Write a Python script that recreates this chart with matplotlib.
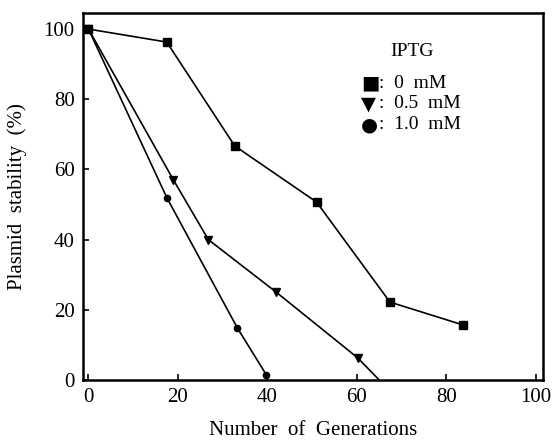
import matplotlib
matplotlib.use("Agg")
import matplotlib.pyplot as plt

# plasmid stability vs generations for three IPTG levels
gen_0mM = [0, 17.5, 32.7, 51, 67.4, 83.7]
stab_0mM = [100, 96.3, 66.7, 50.7, 22.2, 15.7]

gen_05mM = [0, 19, 26.8, 42, 60.2, 65]
stab_05mM = [100, 57, 40, 25, 6.3, 0]

gen_10mM = [0, 17.5, 33.3, 39.8]
stab_10mM = [100, 52, 14.8, 1.4]

xticks = [0, 20, 40, 60, 80, 100]
yticks = [0, 20, 40, 60, 80, 100]

key_symbols = ["■", "▼", "●"]
key_labels = [":  0  mM", ":  0.5  mM", ":  1.0  mM"]

serif = ['Liberation Serif', 'DejaVu Sans']
plt.rcParams['font.family'] = serif

fig = plt.figure(figsize=(5.54, 4.46), dpi=100)
ax = fig.add_axes([0.150, 0.148, 0.830, 0.823])

ax.plot(gen_0mM, stab_0mM, color='black', lw=1.2, marker='s', ms=5.5)
ax.plot(gen_05mM, stab_05mM, color='black', lw=1.2, marker='v', ms=5.5,
        markevery=list(range(len(gen_05mM) - 1)))
ax.plot(gen_10mM, stab_10mM, color='black', lw=1.2, marker='o', ms=4.5)

ax.set_xlim(-1.2, 101.6)
ax.set_ylim(0, 104.6)
ax.set_xticks(xticks)
ax.set_yticks(yticks)
ax.tick_params(direction='in', length=4, width=1.2, labelsize=15, pad=6)
for s in ax.spines.values():
    s.set_linewidth(1.8)

ax.set_xlabel("Number  of  Generations", fontsize=15, labelpad=10)
ax.set_ylabel("Plasmid  stability  (%)", fontsize=15, labelpad=12)

# hand-drawn style key
ax.text(0.715, 0.895, "IPTG", transform=ax.transAxes, ha='center', va='center',
        fontsize=14)
for i, (sym, lab) in enumerate(zip(key_symbols, key_labels)):
    y = 0.808 - i * 0.056
    ax.text(0.605, y, sym, transform=ax.transAxes, ha='left', va='center',
            fontsize=14, family=['DejaVu Sans'])
    ax.text(0.644, y, lab, transform=ax.transAxes, ha='left', va='center',
            fontsize=14)

fig.savefig("out.png", dpi=100)
